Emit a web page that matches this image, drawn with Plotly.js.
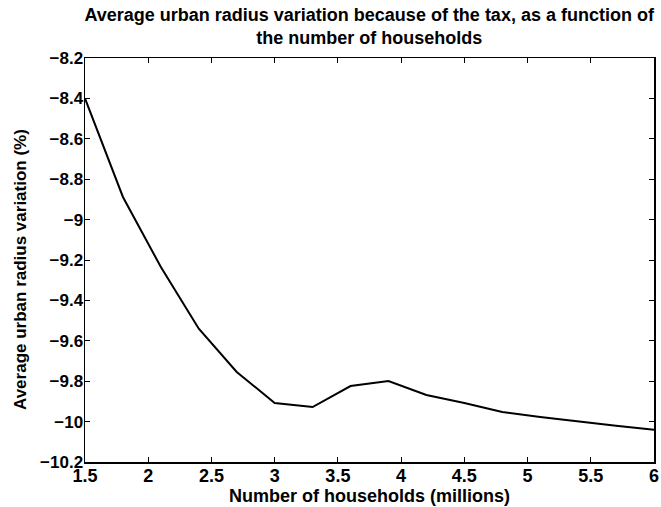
<!DOCTYPE html>
<html>
<head>
<meta charset="utf-8">
<script src="https://cdn.plot.ly/plotly-3.0.1.min.js"></script>
<style>html,body{margin:0;padding:0;background:#fff;}#chart{width:661px;height:507px;}</style>
</head>
<body>
<div id="chart"></div>
<script>
const households = [1.5, 1.8, 2.1, 2.4, 2.7, 3.0, 3.3, 3.6, 3.9, 4.2, 4.5, 4.8, 5.1, 5.4, 5.7, 6.0];
const radiusVariation = [-8.40, -8.888, -9.235, -9.54, -9.754, -9.908, -9.928, -9.824, -9.799, -9.868, -9.908, -9.952, -9.977, -10.00, -10.02, -10.04];
const xTicks = [1.5, 2, 2.5, 3, 3.5, 4, 4.5, 5, 5.5, 6];
const xTickText = ['1.5', '2', '2.5', '3', '3.5', '4', '4.5', '5', '5.5', '6'];
const yTicks = [-8.2, -8.4, -8.6, -8.8, -9, -9.2, -9.4, -9.6, -9.8, -10, -10.2];
const yTickText = ['\u22128.2', '\u22128.4', '\u22128.6', '\u22128.8', '\u22129', '\u22129.2', '\u22129.4', '\u22129.6', '\u22129.8', '\u221210', '\u221210.2'];

const fam = 'Liberation Sans, Arial, sans-serif';
const data = [{
  x: households, y: radiusVariation, type: 'scatter', mode: 'lines',
  line: {color: '#000', width: 2}, hoverinfo: 'skip'
}];
const layout = {
  width: 661, height: 507,
  margin: {l: 85, r: 7, t: 58, b: 45},
  paper_bgcolor: '#fff', plot_bgcolor: '#fff',
  showlegend: false,
  font: {family: fam, color: '#000', weight: 'bold'},
  title: {
    text: 'Average urban radius variation because of the tax, as a function of<br>the number of households',
    font: {family: fam, size: 18, weight: 'bold', color: '#000'},
    x: 0.5585, xanchor: 'center', yref: 'container', y: 1 - 21 / 507, yanchor: 'middle'
  },
  xaxis: {
    range: [1.5, 6], tickvals: xTicks, ticktext: xTickText,
    ticks: 'inside', ticklen: 5, tickwidth: 1, tickcolor: '#000',
    showline: true, linecolor: '#000', linewidth: 1.5, mirror: 'ticks',
    showgrid: false, zeroline: false,
    tickfont: {family: fam, size: 18, weight: 'bold', color: '#000'},
    ticklabelstandoff: -3,
    title: {text: 'Number of households (millions)', standoff: 0,
      font: {family: fam, size: 18, weight: 'bold', color: '#000'}},
    automargin: false
  },
  yaxis: {
    range: [-10.2, -8.2], tickvals: yTicks, ticktext: yTickText,
    ticks: 'inside', ticklen: 5, tickwidth: 1, tickcolor: '#000',
    showline: true, linecolor: '#000', linewidth: 1.5, mirror: 'ticks',
    showgrid: false, zeroline: false,
    tickfont: {family: fam, size: 17, weight: 'bold', color: '#000'},
    ticklabelstandoff: -3,
    automargin: false
  },
  annotations: [{
    text: 'Average urban radius variation (%)', textangle: -90,
    xref: 'paper', yref: 'paper', x: (20 - 85) / 569, y: 0.5 - 10 / 404,
    xanchor: 'center', yanchor: 'middle', showarrow: false,
    font: {family: fam, size: 17, weight: 'bold', color: '#000'}
  }]
};
Plotly.newPlot('chart', data, layout, {staticPlot: true, displayModeBar: false});
</script>
</body>
</html>
